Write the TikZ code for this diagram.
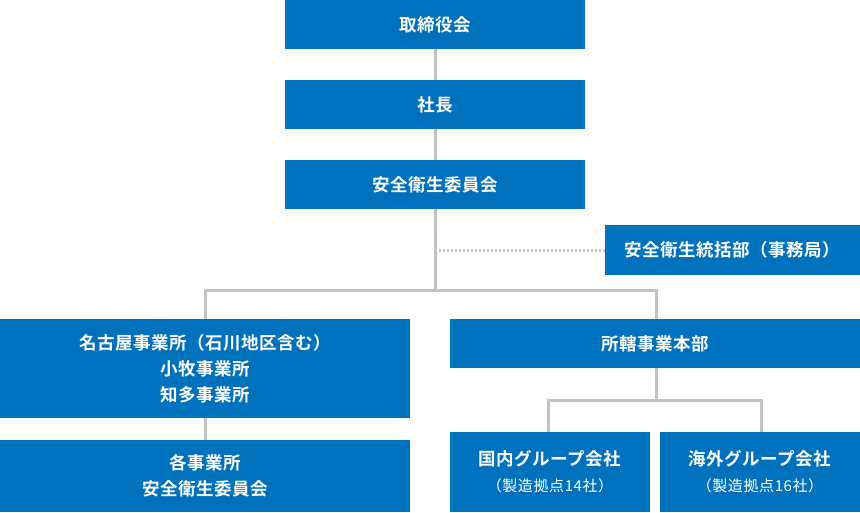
\documentclass[tikz,border=0pt]{standalone}
\usepackage{fontspec}
\newfontfamily\jpbold{Noto Sans CJK JP Bold}[LetterSpace=3]
\newfontfamily\jpreg{Noto Sans CJK JP}[LetterSpace=4]
\definecolor{boxblue}{HTML}{0071BC}
\definecolor{linegray}{HTML}{C3C3C3}
\begin{document}
\begin{tikzpicture}[x=1pt,y=-1pt,
  box/.style={fill=boxblue,draw=none,text=white,inner sep=0pt,align=center,
    font=\jpbold\fontsize{17.5}{26}\selectfont},
  conn/.style={draw=linegray,line width=3pt},
  dotconn/.style={draw=linegray,line width=3pt,dash pattern=on 2pt off 2pt}]
\useasboundingbox (0,0) rectangle (860,512);
\node[box,minimum width=300pt,minimum height=49pt] (board) at (435,24.5) {取締役会};
\node[box,minimum width=300pt,minimum height=49pt] (pres) at (435,104.5) {社長};
\node[box,minimum width=300pt,minimum height=49pt] (comm) at (435,184.5) {安全衛生委員会};
\node[box,minimum width=255pt,minimum height=50pt] (sec) at (732.5,250) {安全衛生統括部（事務局）};
\node[box,minimum width=410pt,minimum height=99pt] (nagoya) at (205,368.5) {名古屋事業所（石川地区含む）\\小牧事業所\\知多事業所};
\node[box,minimum width=410pt,minimum height=49pt] (hq) at (655,343.5) {所轄事業本部};
\node[box,minimum width=410pt,minimum height=72pt] (each) at (205,476) {各事業所\\安全衛生委員会};
\node[box,minimum width=200pt,minimum height=80pt] (dom) at (550,472) {国内グループ会社\\[0pt]{\jpreg\fontsize{15}{20}\selectfont （製造拠点14社）}};
\node[box,minimum width=200pt,minimum height=80pt] (ovs) at (760,472) {海外グループ会社\\[0pt]{\jpreg\fontsize{15}{20}\selectfont （製造拠点16社）}};
\coordinate (j1) at (435,290);
\coordinate (j2) at (656,400);
\coordinate (dj) at (435,250);
\coordinate (hqtop) at (656,319);
\coordinate (hqbot) at (656,368);
\coordinate (domtop) at (548,432);
\coordinate (ovstop) at (761,432);
\draw[conn] (board.south) -- (pres.north);
\draw[conn] (pres.south) -- (comm.north);
\draw[conn] (comm.south) -- (j1);
\draw[dotconn] (dj) -- (sec.west);
\draw[conn] (j1) -| (nagoya.north);
\draw[conn] (j1) -| (hqtop);
\draw[conn] (nagoya.south) -- (each.north);
\draw[conn] (hqbot) -- (j2);
\draw[conn] (j2) -| (domtop);
\draw[conn] (j2) -| (ovstop);
\end{tikzpicture}
\end{document}
